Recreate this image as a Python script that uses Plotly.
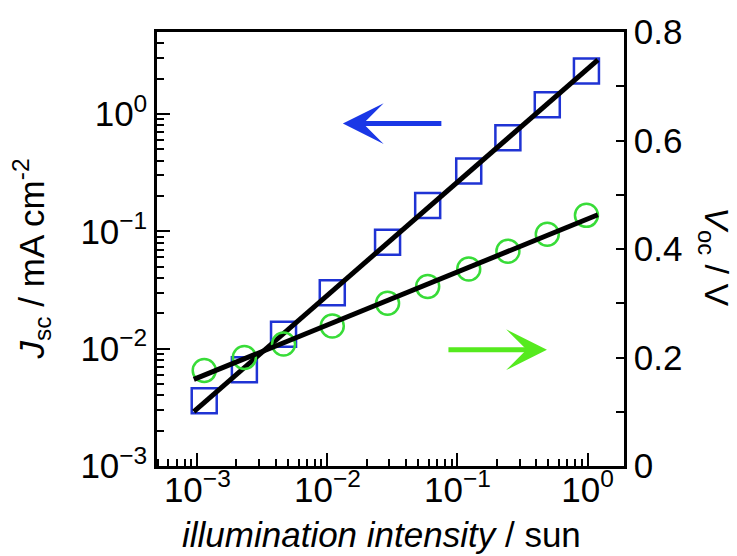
import numpy as np
import plotly.graph_objects as go

# Illumination intensity (sun) for each measurement
intensity = [1.13e-3, 2.3e-3, 4.6e-3, 1.09e-2, 2.9e-2, 5.9e-2, 0.122, 0.244, 0.49, 0.98]
# Short-circuit current density (mA cm^-2)
jsc = [3.6e-3, 6.6e-3, 1.33e-2, 3.0e-2, 0.081, 0.166, 0.327, 0.63, 1.2, 2.33]
# Open-circuit voltage (V)
voc = [0.176, 0.200, 0.225, 0.258, 0.300, 0.331, 0.363, 0.396, 0.427, 0.462]

# Extent of the fitted lines (sun)
fit_x = [9.4e-4, 1.2]

# Axis tick labels
x_tick_vals = [1e-3, 1e-2, 1e-1, 1e0]
x_tick_text = ["10<sup>−3</sup>", "10<sup>−2</sup>", "10<sup>−1</sup>", "10<sup>0</sup>"]
y_tick_vals = [1e-3, 1e-2, 1e-1, 1e0]
y_tick_text = ["10<sup>−3</sup>", "10<sup>−2</sup>", "10<sup>−1</sup>", "10<sup>0</sup>"]

FONT = "Liberation Sans, Arial, Helvetica, sans-serif"
BLUE = "#1f33d4"
GREEN = "#38dc38"

# Power-law fit for Jsc, logarithmic fit for Voc
lx = np.log10(intensity)
a_j, b_j = np.polyfit(lx, np.log10(jsc), 1)
a_v, b_v = np.polyfit(lx, voc, 1)
fx = np.array(fit_x)
jsc_fit = 10 ** (a_j * np.log10(fx) + b_j)
voc_fit = a_v * np.log10(fx) + b_v

minor_log = [k * 10.0 ** n for n in range(-4, 1) for k in range(2, 10)]

fig = go.Figure()
fig.add_trace(go.Scatter(
    x=intensity, y=jsc, mode="markers",
    marker=dict(symbol="square-open", size=25, color=BLUE, line=dict(width=2.5, color=BLUE)),
    showlegend=False))
fig.add_trace(go.Scatter(
    x=intensity, y=voc, mode="markers", yaxis="y2",
    marker=dict(symbol="circle-open", size=23, color=GREEN, line=dict(width=2.5, color=GREEN)),
    showlegend=False))
fig.add_trace(go.Scatter(
    x=fit_x, y=jsc_fit, mode="lines", line=dict(color="black", width=5), showlegend=False))
fig.add_trace(go.Scatter(
    x=fit_x, y=voc_fit, mode="lines", yaxis="y2",
    line=dict(color="black", width=5), showlegend=False))

axis_common = dict(
    showgrid=False, zeroline=False, showline=True, linecolor="black", linewidth=2.5,
    ticks="inside", tickcolor="black", tickwidth=2,
    tickfont=dict(family=FONT, size=35, color="black"),
)

fig.update_layout(
    width=737, height=556,
    margin=dict(l=157, r=113, t=29, b=90),
    paper_bgcolor="white", plot_bgcolor="white",
    font=dict(family=FONT, color="black"),
    xaxis=dict(
        type="log", range=[-3.31, 0.28], mirror=True,
        tickmode="array", tickvals=x_tick_vals, ticktext=x_tick_text, ticklen=13,
        ticklabelstandoff=-9,
        minor=dict(tickmode="array", tickvals=minor_log, ticks="inside", ticklen=7,
                   tickwidth=1.5, tickcolor="black"),
        **axis_common),
    yaxis=dict(
        type="log", range=[-3, 0.7],
        tickmode="array", tickvals=y_tick_vals, ticktext=y_tick_text, ticklen=13,
        minor=dict(tickmode="array", tickvals=minor_log, ticks="inside", ticklen=7,
                   tickwidth=1.5, tickcolor="black"),
        **axis_common),
    yaxis2=dict(
        overlaying="y", side="right", range=[0, 0.8], dtick=0.2, ticklen=8,
        minor=dict(dtick=0.1, ticks="inside", ticklen=8, tickwidth=2, tickcolor="black"),
        **axis_common),
    annotations=[
        # axis titles
        dict(xref="paper", yref="paper", x=0.48, y=-0.158, showarrow=False,
             text="<i>illumination intensity</i> / sun",
             font=dict(family=FONT, size=35, color="black"),
             xanchor="center", yanchor="middle"),
        dict(xref="paper", yref="paper", x=-0.268, y=0.478, showarrow=False,
             text="<i>J</i><sub>sc</sub> / mA cm<sup>-2</sup>", textangle=-90,
             font=dict(family=FONT, size=35, color="black"),
             xanchor="center", yanchor="middle"),
        dict(xref="paper", yref="paper", x=1.195, y=0.483, showarrow=False,
             text="<i>V</i><sub>oc</sub> / V", textangle=90,
             font=dict(family=FONT, size=34, color="black"),
             xanchor="center", yanchor="middle"),
        # arrows pointing to the relevant axis
        dict(xref="paper", yref="paper", x=0.398, y=0.789, ax=100, ay=0, text="",
             showarrow=True, arrowhead=3, arrowwidth=5, arrowsize=1.36, arrowcolor="#1a37e6"),
        dict(xref="paper", yref="paper", x=0.835, y=0.268, ax=-100, ay=0, text="",
             showarrow=True, arrowhead=3, arrowwidth=5, arrowsize=1.36, arrowcolor="#55ea1e"),
    ],
)

fig.write_html("out.html")
